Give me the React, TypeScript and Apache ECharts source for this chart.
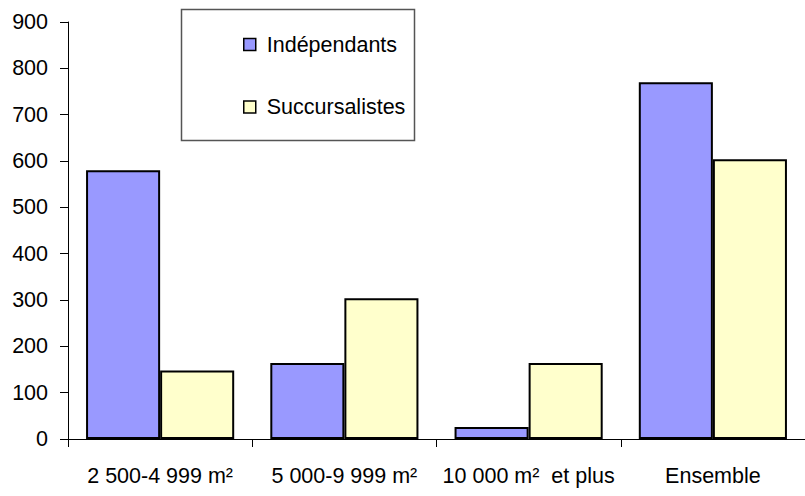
import React, { useEffect, useRef } from "react";
import * as echarts from "echarts";

const categories = ["2 500-4 999 m²", "5 000-9 999 m²", "10 000 m²  et plus", "Ensemble"];
const independants = [580, 164, 26, 770];
const succursalistes = [148, 304, 164, 604];
const seriesNames = ["Indépendants", "Succursalistes"];
const FONT = "'Liberation Sans', Arial, sans-serif";
const FS = 21.5;

export default function App() {
  const ref = useRef<HTMLDivElement>(null);
  useEffect(() => {
    if (!ref.current) return;
    const chart = echarts.init(ref.current, undefined, { renderer: "svg" });
    chart.setOption({
      animation: false,
      backgroundColor: "#fff",
      grid: { left: 68, top: 22, bottom: 57, right: -9, containLabel: false },
      legend: {
        orient: "vertical",
        left: 243,
        top: 32.5,
        padding: 0,
        itemWidth: 12,
        itemHeight: 12,
        itemGap: 38.5,
        icon: "rect",
        itemStyle: { borderColor: "#000", borderWidth: 1.5 },
        textStyle: { fontFamily: FONT, fontSize: FS, color: "#000", lineHeight: 24, padding: [0, 0, 0, 6] },
        data: seriesNames,
      },
      xAxis: {
        type: "category",
        data: categories,
        axisLine: { lineStyle: { color: "#000", width: 1 } },
        axisTick: { show: true, length: 8, lineStyle: { color: "#000" } },
        axisLabel: { fontFamily: FONT, fontSize: FS, color: "#000", margin: 26, interval: 0 },
        splitLine: { show: false },
      },
      yAxis: {
        type: "value",
        min: 0,
        max: 900,
        interval: 100,
        axisLine: { show: true, lineStyle: { color: "#000", width: 1 } },
        axisTick: { show: true, length: 8, lineStyle: { color: "#000" } },
        axisLabel: { fontFamily: FONT, fontSize: FS, color: "#000", margin: 20 },
        splitLine: { show: false },
      },
      graphic: [
        {
          type: "rect",
          shape: { x: 181.5, y: 9.5, width: 233, height: 131 },
          style: { fill: "none", stroke: "#555", lineWidth: 1.5 },
          z: -1,
        },
      ],
      series: [
        {
          name: seriesNames[0],
          type: "bar",
          data: independants,
          barGap: "0%",
          barCategoryGap: "19.6%",
          itemStyle: { color: "#9999FF", borderColor: "#000", borderWidth: 2 },
        },
        {
          name: seriesNames[1],
          type: "bar",
          data: succursalistes,
          itemStyle: { color: "#FFFFCC", borderColor: "#000", borderWidth: 2 },
        },
      ],
    });
    return () => chart.dispose();
  }, []);
  return <div ref={ref} style={{ width: 805, height: 496, position: "absolute", left: 0, top: 0 }} />;
}
